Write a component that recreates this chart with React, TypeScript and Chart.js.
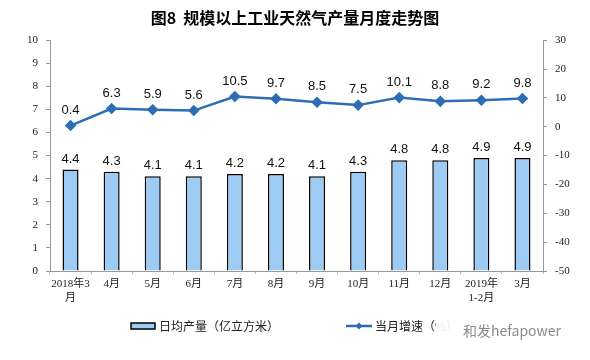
import React, { useEffect, useRef } from "react";
import { Chart, registerables } from "chart.js";

Chart.register(...registerables);

const categories: (string | string[])[] = [
  ["2018年3", "月"], "4月", "5月", "6月", "7月", "8月", "9月", "10月", "11月", "12月", ["2019年", "1-2月"], "3月",
];
const dailyOutput = [4.4, 4.3, 4.1, 4.1, 4.2, 4.2, 4.1, 4.3, 4.8, 4.8, 4.9, 4.9];
const monthlyGrowth = [0.4, 6.3, 5.9, 5.6, 10.5, 9.7, 8.5, 7.5, 10.1, 8.8, 9.2, 9.8];
const barLabel = "日均产量（亿立方米）";
const lineLabel = "当月增速（%）";
const watermark = "和发hefapower";
const titleText = "图8  规模以上工业天然气产量月度走势图";

const BAR_FILL = "#9DCBF3";
const LINE_COLOR = "#2E6DB4";
const CJK = "'Noto Sans CJK SC', sans-serif";

const valueLabels = {
  id: "valueLabels",
  afterDatasetsDraw(chart: any) {
    const ctx = chart.ctx;
    ctx.save();
    ctx.fillStyle = "#111";
    ctx.font = "13px 'Liberation Sans', Arial, sans-serif";
    ctx.textAlign = "center";
    ctx.textBaseline = "bottom";
    chart.data.datasets.forEach((ds: any, i: number) => {
      const meta = chart.getDatasetMeta(i);
      const off = ds.type === "line" ? 9 : 4;
      meta.data.forEach((el: any, j: number) => {
        ctx.fillText(Number(ds.data[j]).toFixed(1), el.x, el.y - off);
      });
    });
    ctx.restore();
  },
};

const customLegend = {
  id: "customLegend",
  afterDraw(chart: any) {
    const ctx = chart.ctx;
    const y = 326;
    ctx.save();
    ctx.fillStyle = BAR_FILL;
    ctx.fillRect(131, y - 3, 24, 6);
    ctx.strokeStyle = "#000";
    ctx.lineWidth = 1.5;
    ctx.strokeRect(131, y - 3, 24, 6);
    ctx.font = "12px " + CJK;
    ctx.fillStyle = "#222";
    ctx.textBaseline = "middle";
    ctx.textAlign = "left";
    ctx.fillText(barLabel, 159, y);
    ctx.strokeStyle = LINE_COLOR;
    ctx.lineWidth = 2.5;
    ctx.beginPath();
    ctx.moveTo(346, y);
    ctx.lineTo(372, y);
    ctx.stroke();
    ctx.fillStyle = LINE_COLOR;
    ctx.beginPath();
    ctx.moveTo(359, y - 3.5);
    ctx.lineTo(362.5, y);
    ctx.lineTo(359, y + 3.5);
    ctx.lineTo(355.5, y);
    ctx.closePath();
    ctx.fill();
    ctx.fillStyle = "#222";
    ctx.fillText(lineLabel, 375, y);
    ctx.fillStyle = "rgba(255,255,255,0.92)";
    ctx.fillRect(436, y - 12, 130, 24);
    ctx.fillStyle = "#8a8a8a";
    ctx.font = "14px " + CJK;
    ctx.fillText(watermark, 463, y + 5);
    ctx.restore();
  },
};

export default function App() {
  const ref = useRef<HTMLCanvasElement>(null);
  useEffect(() => {
    document.body.style.margin = "0";
    const tickFont = { family: "'Liberation Serif', 'Noto Sans CJK SC', serif", size: 11 };
    const chart = new Chart(ref.current!, {
      data: {
        labels: categories,
        datasets: [
          {
            type: "line",
            label: lineLabel,
            data: monthlyGrowth,
            yAxisID: "y1",
            borderColor: LINE_COLOR,
            backgroundColor: LINE_COLOR,
            borderWidth: 2.5,
            pointStyle: "rectRot",
            pointRadius: 4,
            pointBackgroundColor: LINE_COLOR,
            pointBorderColor: LINE_COLOR,
            order: 0,
          } as any,
          {
            type: "bar",
            label: barLabel,
            data: dailyOutput,
            yAxisID: "y",
            backgroundColor: BAR_FILL,
            borderColor: "#000",
            borderWidth: 1.5,
            barPercentage: 0.39,
            categoryPercentage: 1,
            order: 1,
          } as any,
        ],
      },
      options: {
        responsive: false,
        animation: false,
        layout: { padding: { top: 0, bottom: 49, left: 0, right: 0 } },
        plugins: {
          title: {
            display: true,
            text: titleText,
            color: "#000",
            font: { family: CJK, size: 16, weight: "bold" },
            padding: { top: 8, bottom: 13 },
          },
          legend: { display: false },
          tooltip: { enabled: false },
        },
        scales: {
          x: {
            grid: { display: true, drawOnChartArea: false, tickLength: 3, color: "#bbb" },
            border: { color: "#999" },
            ticks: { color: "#222", font: tickFont, maxRotation: 0, autoSkip: false, padding: 4 },
            afterFit: (s: any) => { s.height = 40; },
          },
          y: {
            position: "left",
            min: 0, max: 10,
            ticks: { stepSize: 1, color: "#222", font: tickFont, padding: 8 },
            grid: { drawOnChartArea: false, tickLength: 4, color: "#999" },
            border: { color: "#999" },
            afterFit: (s: any) => { s.width = 50; },
          },
          y1: {
            position: "right",
            min: -50, max: 30,
            ticks: { stepSize: 10, color: "#222", font: tickFont, padding: 8 },
            grid: { drawOnChartArea: false, tickLength: 4, color: "#999" },
            border: { color: "#999" },
            afterFit: (s: any) => { s.width = 47; },
          },
        },
      },
      plugins: [valueLabels, customLegend],
    } as any);
    return () => chart.destroy();
  }, []);
  return <canvas ref={ref} width={590} height={360} style={{ display: "block" }} />;
}
